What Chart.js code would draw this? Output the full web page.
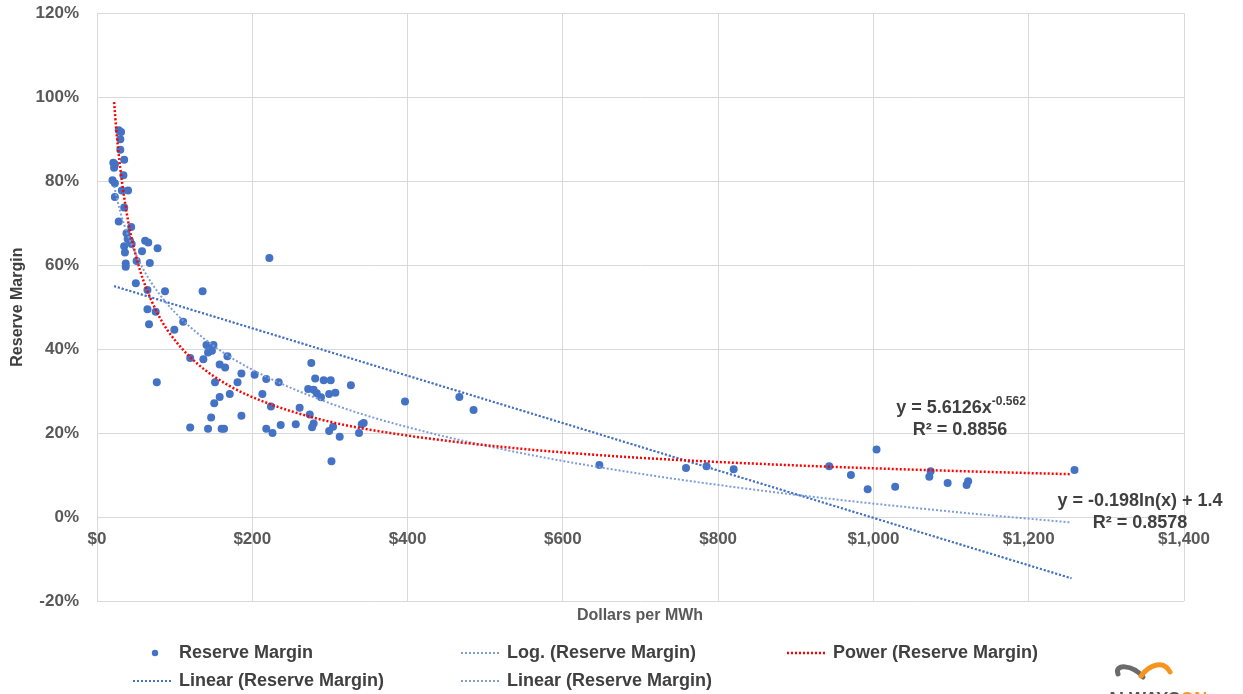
<!DOCTYPE html>
<html>
<head>
<meta charset="utf-8">
<script src="https://cdn.jsdelivr.net/npm/chart.js@4/dist/chart.umd.min.js"></script>
<style>
  body { margin: 0; background: #fff; }
  canvas { display: block; }
</style>
</head>
<body>
<canvas id="reserveChart" width="1243" height="694"></canvas>
<script>
// values (x in $/MWh, y in % reserve margin)
const reserveX = [28, 31, 30, 30, 35, 21, 23, 22, 34, 20, 23, 32, 40, 23, 35, 28, 44, 38, 39.5, 42.5,
  62, 66, 35, 44.7, 36, 58, 78, 51, 68, 37, 37, 222, 50, 65, 87.6, 136, 65, 75.6, 111, 67,
  99.6, 141, 150, 143, 148, 137, 120, 168, 158, 165, 77, 152, 181, 186, 203, 218, 234, 276, 281, 292,
  301, 327, 272, 279, 283, 288.5, 299, 307, 171, 158, 151, 213, 224, 261, 274, 147, 186, 120, 143, 160.5,
  163.6, 218, 226, 236.6, 256, 279, 277, 299, 304, 312.6, 337.5, 341, 343.5, 302, 396.7, 466.7, 485, 647, 758.6, 785,
  820, 943, 971, 1004, 992.6, 1028, 1073.7, 1072, 1095.6, 1122, 1120, 1259];
const reserveY = [92.1, 91.7, 90.0, 87.5, 85.1, 84.4, 84.0, 83.2, 81.4, 80.2, 79.5, 77.8, 77.8, 76.2, 73.7, 70.4, 69.1, 67.6, 66.2, 65.8,
  65.8, 65.4, 64.5, 65.0, 63.0, 63.3, 64.0, 61.0, 60.5, 60.4, 59.6, 61.7, 55.7, 54.1, 53.8, 53.8, 49.5, 48.9, 46.5, 45.9,
  44.6, 41.0, 41.0, 39.2, 39.6, 37.6, 37.9, 38.3, 36.3, 35.6, 32.1, 32.1, 32.1, 34.2, 33.9, 32.9, 32.1, 36.7, 33.0, 32.6,
  32.6, 31.4, 30.5, 30.3, 29.5, 28.5, 29.3, 29.6, 29.3, 28.6, 27.1, 29.3, 26.3, 26.0, 24.4, 23.7, 24.1, 21.3, 21.0, 21.0,
  21.0, 21.0, 20.0, 21.9, 22.1, 22.3, 21.4, 20.5, 21.5, 19.1, 20.0, 22.1, 22.4, 13.3, 27.5, 28.6, 25.5, 12.4, 11.7, 12.1,
  11.4, 12.1, 10.0, 16.1, 6.6, 7.2, 10.9, 9.6, 8.1, 8.5, 7.6, 11.2];

// trendlines as drawn in the picture
const logX = [22, 30, 40, 60, 80, 100, 150, 200, 300, 400, 550, 700, 900, 1100, 1255];
const logY = [78.8, 72.7, 67.0, 58.9, 53.2, 48.8, 40.8, 35.1, 27.1, 21.4, 15.1, 10.3, 5.3, 1.3, -1.3];
const powerX = [22, 25, 30, 40, 50, 60, 80, 100, 130, 170, 220, 300, 400, 550, 700, 900, 1100, 1255];
const powerY = [98.8, 92.0, 83.0, 70.6, 62.3, 56.2, 47.8, 42.2, 36.4, 31.3, 27.1, 22.7, 19.4, 16.2, 14.1, 12.3, 11.0, 10.2];
const linearX = [22, 1255];
const linearY = [55.0, -14.6];

const xTickLabels = ['$0', '$200', '$400', '$600', '$800', '$1,000', '$1,200', '$1,400'];
const yTickLabels = ['-20%', '0%', '20%', '40%', '60%', '80%', '100%', '120%'];

const toPoints = (xs, ys) => xs.map((x, i) => ({ x: x, y: ys[i] }));

Chart.defaults.font.family = '"Liberation Sans", Arial, sans-serif';

const trendStyle = (color, width) => ({
  showLine: true,
  pointRadius: 0,
  borderColor: color,
  backgroundColor: color,
  borderWidth: width,
  borderDash: [2, 2],
  cubicInterpolationMode: 'monotone'
});

const datasets = [
  { label: 'Reserve Margin', data: toPoints(reserveX, reserveY), pointRadius: 4, pointBackgroundColor: '#4472C4', pointBorderWidth: 0, backgroundColor: '#4472C4', order: 5 },
  Object.assign({ label: 'Log. (Reserve Margin)', data: toPoints(logX, logY), order: 2 }, trendStyle('#7E9ED9', 2)),
  Object.assign({ label: 'Power (Reserve Margin)', data: toPoints(powerX, powerY), order: 1 }, trendStyle('#FF0000', 2.5)),
  Object.assign({ label: 'Linear (Reserve Margin)', data: toPoints(linearX, linearY), order: 3 }, trendStyle('#4472C4', 2)),
  Object.assign({ label: 'Linear (Reserve Margin)', data: toPoints(linearX, linearY), order: 4 }, trendStyle('#7E9ED9', 2))
];

// legend, equations, x title and logo drawn on top
const extras = {
  id: 'extras',
  afterDraw(chart) {
    const c = chart.ctx;
    c.save();
    c.textBaseline = 'middle';

    c.fillStyle = '#595959';
    c.font = 'bold 16px "Liberation Sans", Arial';
    c.textAlign = 'center';
    c.fillText('Dollars per MWh', 640, 616);

    // equations
    c.fillStyle = '#404040';
    const main = 'y = 5.6126x';
    c.font = 'bold 18px "Liberation Sans", Arial';
    const w1 = c.measureText(main).width;
    c.font = 'bold 12px "Liberation Sans", Arial';
    const w2 = c.measureText('-0.562').width;
    const sx = 961 - (w1 + w2) / 2;
    c.textAlign = 'left';
    c.font = 'bold 18px "Liberation Sans", Arial';
    c.fillText(main, sx, 408);
    c.font = 'bold 12px "Liberation Sans", Arial';
    c.fillText('-0.562', sx + w1, 402);
    c.textAlign = 'center';
    c.font = 'bold 18px "Liberation Sans", Arial';
    c.fillText('R² = 0.8856', 960, 430);
    c.fillText('y = -0.198ln(x) + 1.4', 1140, 501);
    c.fillText('R² = 0.8578', 1140, 523);

    // legend
    const spots = [[133, 653], [461, 653], [787, 653], [133, 681], [461, 681]];
    c.textAlign = 'left';
    chart.data.datasets.forEach((ds, i) => {
      const [lx, ly] = spots[i];
      if (!ds.showLine) {
        c.fillStyle = ds.pointBackgroundColor;
        c.beginPath();
        c.arc(lx + 22, ly, 3.2, 0, Math.PI * 2);
        c.fill();
      } else {
        c.strokeStyle = ds.borderColor;
        c.lineWidth = ds.borderWidth;
        c.setLineDash(ds.borderDash);
        c.beginPath();
        c.moveTo(lx, ly);
        c.lineTo(lx + 40, ly);
        c.stroke();
        c.setLineDash([]);
      }
      c.fillStyle = '#404040';
      c.font = 'bold 18px "Liberation Sans", Arial';
      c.fillText(ds.label, lx + 46, ly);
    });

    // logo, cut off at the bottom edge
    c.lineCap = 'round';
    c.lineWidth = 5;
    c.strokeStyle = '#6b6b6b';
    c.beginPath();
    c.moveTo(1143, 677);
    c.bezierCurveTo(1132, 664, 1114, 664, 1118, 674);
    c.stroke();
    c.strokeStyle = '#F7941D';
    c.beginPath();
    c.moveTo(1141, 676);
    c.bezierCurveTo(1150, 664, 1164, 660, 1170, 672);
    c.stroke();
    c.textBaseline = 'alphabetic';
    c.font = 'bold 18px "Liberation Sans", Arial';
    c.fillStyle = '#555555';
    c.fillText('ALWAYS', 1106, 705);
    c.fillStyle = '#F7941D';
    c.fillText('ON', 1106 + c.measureText('ALWAYS').width, 705);
    c.restore();
  }
};

const ctx = document.getElementById('reserveChart').getContext('2d');
new Chart(ctx, {
  type: 'scatter',
  data: { datasets: datasets },
  options: {
    responsive: false,
    animation: false,
    layout: { padding: { left: 0, top: 13, right: 59, bottom: 93 } },
    plugins: { legend: { display: false }, tooltip: { enabled: false } },
    scales: {
      x: {
        type: 'linear',
        position: { y: 0 },
        min: 0,
        max: 1400,
        ticks: {
          stepSize: 200,
          maxRotation: 0,
          padding: 12,
          color: '#595959',
          font: { size: 17, weight: 'bold' },
          callback: (v, i) => xTickLabels[i]
        },
        grid: { color: '#d9d9d9', drawTicks: false },
        border: { display: false },
        afterFit: (scale) => { scale.height = 0; }
      },
      y: {
        min: -20,
        max: 120,
        ticks: {
          stepSize: 20,
          padding: 3,
          color: '#595959',
          font: { size: 17, weight: 'bold' },
          callback: (v, i) => yTickLabels[i]
        },
        grid: { color: '#d9d9d9', drawTicks: true, tickLength: 15, tickColor: 'rgba(0,0,0,0)' },
        border: { display: false },
        title: { display: true, text: 'Reserve Margin', color: '#404040', font: { size: 16, weight: 'bold' }, padding: { top: 8, bottom: 0 } },
        afterFit: (scale) => { scale.width = 97; }
      }
    }
  },
  plugins: [extras]
});
</script>
</body>
</html>
